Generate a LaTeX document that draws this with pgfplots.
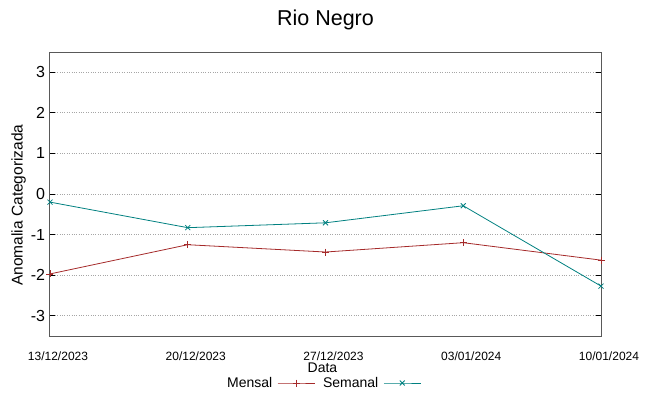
\documentclass[border=0pt]{standalone}
\usepackage{pgfplots}
\pgfplotsset{compat=1.18}
\usepackage{fontspec}
\setmainfont{Liberation Sans}
\definecolor{mred}{HTML}{A52A2A}
\definecolor{steal}{HTML}{008080}
\begin{document}
\begin{tikzpicture}
\path[use as bounding box] (-50bp,-60bp) rectangle (599bp,336bp);
\begin{axis}[
  at={(0,0)}, anchor=south west,
  scale only axis, width=551bp, height=284bp,
  xmin=0, xmax=4, ymin=-3.5, ymax=3.5,
  xtick={0,1,2,3,4},
  xticklabels={13/12/2023,20/12/2023,27/12/2023,03/01/2024,10/01/2024},
  ytick={-3,-2,-1,0,1,2,3},
  /pgf/number format/assume math mode=true,
  x tick label style={font=\fontsize{12bp}{14bp}\selectfont, yshift=-12bp, xshift=8bp},
  y tick label style={font=\fontsize{16bp}{18bp}\selectfont, xshift=-1.5bp},
  xtick style={draw=none},
  ytick style={black, line width=0.8bp},
  major tick length=5bp,
  tick align=inside,
  ymajorgrids, grid style={gray!70, dotted, line width=0.8bp},
  axis line style={draw=black!65, line width=1bp},
  title={Rio Negro},
  title style={font=\fontsize{21.5bp}{24bp}\selectfont, at={(0.5,1)}, anchor=center, yshift=26bp},
  xlabel={Data},
  xlabel style={font=\fontsize{14bp}{16bp}\selectfont, at={(0.5,0)}, anchor=center, yshift=-32bp, xshift=-3bp},
  ylabel={Anomalia Categorizada},
  ylabel style={font=\fontsize{15.5bp}{18bp}\selectfont, at={(-0.057,0.461)}, anchor=center, rotate=0},
  legend columns=2,
  legend plot pos=right,
  legend style={draw=none, fill=none, at={(0,0)}, anchor=west, yshift=-47bp, xshift=175bp,
    font=\fontsize{14bp}{16bp}\selectfont, /tikz/every even column/.append style={column sep=6bp},
    inner sep=0pt},
  legend image code/.code={\path (0bp,0bp) (40bp,0bp); \draw[mark repeat=2,mark phase=2,#1] plot coordinates {(3bp,0bp) (21.5bp,0bp) (40bp,0bp)};},
]
\addplot[mred, line width=0.8bp, mark=+, mark size=3.5bp] coordinates {
(0,-1.97) (1,-1.25) (2,-1.43) (3,-1.2) (4,-1.63)};
\addlegendentry{Mensal}
\addplot[steal, line width=0.8bp, mark=x, mark size=3.5bp] coordinates {
(0,-0.2) (1,-0.83) (2,-0.71) (3,-0.29) (4,-2.27)};
\addlegendentry{Semanal}
\end{axis}
\end{tikzpicture}
\end{document}
